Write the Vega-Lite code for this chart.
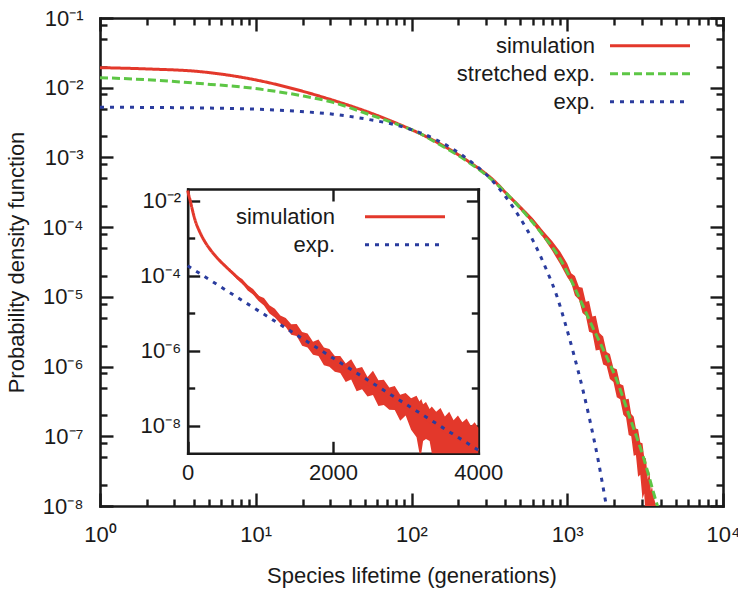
{
  "$schema": "https://vega.github.io/schema/vega-lite/v6.json",
  "width": 623,
  "height": 488,
  "autosize": {"type": "none"},
  "padding": {"left": 100, "top": 18, "right": 15, "bottom": 85},
  "background": "#ffffff",
  "config": {
    "view": {"stroke": null},
    "font": "Liberation Sans",
    "axis": {
      "grid": false, "domainColor": "#1a1a1a", "domainWidth": 2.6, "domainCap": "square",
      "tickColor": "#1a1a1a", "tickWidth": 2.4,
      "labelFont": "Liberation Sans", "labelFontSize": 22, "labelColor": "#1a1a1a",
      "titleFont": "Liberation Sans", "titleFontSize": 22, "titleFontWeight": "normal", "titleColor": "#1a1a1a",
      "labelOverlap": false, "labelFlush": false, "labelBound": false, "zindex": 1
    },
    "legend": {"labelFont": "Liberation Sans", "labelFontSize": 22, "labelColor": "#1a1a1a", "padding": 0}
  },
  "datasets": {
    "main": [
      {"series": "simulation", "t": 1, "p": 0.0194},
      {"series": "simulation", "t": 2, "p": 0.0186},
      {"series": "simulation", "t": 4.4, "p": 0.017},
      {"series": "simulation", "t": 10.6, "p": 0.0126},
      {"series": "simulation", "t": 19.2, "p": 0.00912},
      {"series": "simulation", "t": 31.3, "p": 0.00661},
      {"series": "simulation", "t": 51.3, "p": 0.00457},
      {"series": "simulation", "t": 84.3, "p": 0.00295},
      {"series": "simulation", "t": 137, "p": 0.00178},
      {"series": "simulation", "t": 226, "p": 0.000912},
      {"series": "simulation", "t": 352, "p": 0.000427},
      {"series": "simulation", "t": 400, "p": 0.0003162},
      {"series": "simulation", "t": 500, "p": 0.0001905},
      {"series": "simulation", "t": 600, "p": 0.000123},
      {"series": "simulation", "t": 700, "p": 7.943e-5},
      {"series": "simulation", "t": 800, "p": 5.37e-5},
      {"series": "simulation", "t": 900, "p": 3.631e-5},
      {"series": "simulation", "t": 1000, "p": 2.399e-5},
      {"series": "simulation", "t": 1120, "p": 1.445e-5},
      {"series": "simulation", "t": 1253, "p": 8.913e-6},
      {"series": "simulation", "t": 1380, "p": 5.248e-6},
      {"series": "simulation", "t": 1524, "p": 3.02e-6},
      {"series": "simulation", "t": 1700, "p": 1.698e-6},
      {"series": "simulation", "t": 1879, "p": 1.0e-6},
      {"series": "simulation", "t": 2080, "p": 5.754e-7},
      {"series": "simulation", "t": 2291, "p": 3.311e-7},
      {"series": "simulation", "t": 2480, "p": 1.905e-7},
      {"series": "simulation", "t": 2672, "p": 1.096e-7},
      {"series": "simulation", "t": 2850, "p": 6.31e-8},
      {"series": "simulation", "t": 3041, "p": 3.631e-8},
      {"series": "simulation", "t": 3200, "p": 2.089e-8},
      {"series": "simulation", "t": 3373, "p": 1.202e-8},
      {"series": "simulation", "t": 3500, "p": 7.943e-9},
      {"series": "stretched exp.", "t": 1, "p": 0.01393},
      {"series": "stretched exp.", "t": 2, "p": 0.01303},
      {"series": "stretched exp.", "t": 4.4, "p": 0.01148},
      {"series": "stretched exp.", "t": 10.6, "p": 0.00955},
      {"series": "stretched exp.", "t": 19.2, "p": 0.007762},
      {"series": "stretched exp.", "t": 31.3, "p": 0.006166},
      {"series": "stretched exp.", "t": 51.3, "p": 0.004266},
      {"series": "stretched exp.", "t": 84.3, "p": 0.002884},
      {"series": "stretched exp.", "t": 112, "p": 0.002239},
      {"series": "stretched exp.", "t": 137, "p": 0.001738},
      {"series": "stretched exp.", "t": 226, "p": 0.0008913},
      {"series": "stretched exp.", "t": 352, "p": 0.0004169},
      {"series": "stretched exp.", "t": 473, "p": 0.0002138},
      {"series": "stretched exp.", "t": 668, "p": 8.71e-5},
      {"series": "stretched exp.", "t": 897, "p": 3.548e-5},
      {"series": "stretched exp.", "t": 1239, "p": 8.128e-6},
      {"series": "stretched exp.", "t": 1445, "p": 3.802e-6},
      {"series": "stretched exp.", "t": 1706, "p": 1.738e-6},
      {"series": "stretched exp.", "t": 2075, "p": 6.457e-7},
      {"series": "stretched exp.", "t": 2529, "p": 1.82e-7},
      {"series": "stretched exp.", "t": 3083, "p": 5.012e-8},
      {"series": "stretched exp.", "t": 3750, "p": 1.096e-8},
      {"series": "stretched exp.", "t": 3950, "p": 7.586e-9},
      {"series": "exp.", "t": 1, "p": 0.005248},
      {"series": "exp.", "t": 4.4, "p": 0.005129},
      {"series": "exp.", "t": 10.6, "p": 0.004898},
      {"series": "exp.", "t": 19.2, "p": 0.004571},
      {"series": "exp.", "t": 31.3, "p": 0.004169},
      {"series": "exp.", "t": 51.3, "p": 0.003548},
      {"series": "exp.", "t": 84.3, "p": 0.002818},
      {"series": "exp.", "t": 145, "p": 0.001778},
      {"series": "exp.", "t": 215, "p": 0.001047},
      {"series": "exp.", "t": 335, "p": 0.0004467},
      {"series": "exp.", "t": 407, "p": 0.000263},
      {"series": "exp.", "t": 498, "p": 0.0001349},
      {"series": "exp.", "t": 605, "p": 6.31e-5},
      {"series": "exp.", "t": 738, "p": 2.399e-5},
      {"series": "exp.", "t": 855, "p": 1.047e-5},
      {"series": "exp.", "t": 970, "p": 4.169e-6},
      {"series": "exp.", "t": 1094, "p": 1.585e-6},
      {"series": "exp.", "t": 1268, "p": 4.365e-7},
      {"series": "exp.", "t": 1400, "p": 1.66e-7},
      {"series": "exp.", "t": 1585, "p": 4.365e-8},
      {"series": "exp.", "t": 1758, "p": 1.202e-8},
      {"series": "exp.", "t": 1850, "p": 6.31e-9}
    ],
    "mainBand": [
      {"t": 400, "lo": 3.02e-4, "hi": 3.311e-4},
      {"t": 500, "lo": 1.778e-4, "hi": 2.042e-4},
      {"t": 600, "lo": 1.122e-4, "hi": 1.349e-4},
      {"t": 700, "lo": 7.079e-5, "hi": 8.913e-5},
      {"t": 800, "lo": 4.571e-5, "hi": 6.31e-5},
      {"t": 900, "lo": 2.951e-5, "hi": 4.467e-5},
      {"t": 1000, "lo": 1.905e-5, "hi": 3.02e-5},
      {"t": 1060, "lo": 1.585e-5, "hi": 2.188e-5},
      {"t": 1120, "lo": 1.047e-5, "hi": 1.995e-5},
      {"t": 1190, "lo": 9.12e-6, "hi": 1.38e-5},
      {"t": 1253, "lo": 5.888e-6, "hi": 1.349e-5},
      {"t": 1315, "lo": 5.37e-6, "hi": 8.511e-6},
      {"t": 1380, "lo": 3.162e-6, "hi": 8.71e-6},
      {"t": 1450, "lo": 3.02e-6, "hi": 5.248e-6},
      {"t": 1524, "lo": 1.698e-6, "hi": 5.37e-6},
      {"t": 1610, "lo": 1.738e-6, "hi": 3.02e-6},
      {"t": 1700, "lo": 1.072e-6, "hi": 2.692e-6},
      {"t": 1790, "lo": 1.023e-6, "hi": 1.622e-6},
      {"t": 1879, "lo": 6.607e-7, "hi": 1.514e-6},
      {"t": 1980, "lo": 6.026e-7, "hi": 9.55e-7},
      {"t": 2080, "lo": 3.631e-7, "hi": 9.12e-7},
      {"t": 2185, "lo": 3.388e-7, "hi": 5.623e-7},
      {"t": 2291, "lo": 2.042e-7, "hi": 5.37e-7},
      {"t": 2385, "lo": 1.862e-7, "hi": 3.388e-7},
      {"t": 2480, "lo": 1.047e-7, "hi": 3.467e-7},
      {"t": 2575, "lo": 1.0e-7, "hi": 2.089e-7},
      {"t": 2672, "lo": 5.248e-8, "hi": 1.905e-7},
      {"t": 2760, "lo": 5.37e-8, "hi": 1.288e-7},
      {"t": 2850, "lo": 2.63e-8, "hi": 1.259e-7},
      {"t": 2945, "lo": 2.818e-8, "hi": 8.128e-8},
      {"t": 3041, "lo": 1.259e-8, "hi": 7.943e-8},
      {"t": 3120, "lo": 1.514e-8, "hi": 5.012e-8},
      {"t": 3200, "lo": 6.166e-9, "hi": 4.786e-8},
      {"t": 3290, "lo": 7.943e-9, "hi": 2.399e-8},
      {"t": 3373, "lo": 3.02e-9, "hi": 3.162e-8},
      {"t": 3440, "lo": 5.012e-9, "hi": 1.66e-8},
      {"t": 3500, "lo": 1.995e-9, "hi": 1.905e-8},
      {"t": 3600, "lo": 1.259e-9, "hi": 1.318e-8},
      {"t": 3700, "lo": 1e-9, "hi": 1.047e-8},
      {"t": 3830, "lo": 1e-9, "hi": 8.913e-9}
    ],
    "inset": [
      {"series": "simulation", "t": 0, "p": 0.01905},
      {"series": "simulation", "t": 15, "p": 0.01413},
      {"series": "simulation", "t": 32, "p": 0.01072},
      {"series": "simulation", "t": 60, "p": 0.00631},
      {"series": "simulation", "t": 100, "p": 0.003162},
      {"series": "simulation", "t": 160, "p": 0.001585},
      {"series": "simulation", "t": 238, "p": 0.0008128},
      {"series": "simulation", "t": 320, "p": 0.0004786},
      {"series": "simulation", "t": 421, "p": 0.0002818},
      {"series": "simulation", "t": 530, "p": 0.0001738},
      {"series": "simulation", "t": 651, "p": 0.0001047},
      {"series": "simulation", "t": 760, "p": 6.607e-5},
      {"series": "simulation", "t": 881, "p": 3.981e-5},
      {"series": "simulation", "t": 1000, "p": 2.399e-5},
      {"series": "simulation", "t": 1110, "p": 1.445e-5},
      {"series": "simulation", "t": 1230, "p": 8.913e-6},
      {"series": "simulation", "t": 1340, "p": 5.623e-6},
      {"series": "simulation", "t": 1450, "p": 3.802e-6},
      {"series": "simulation", "t": 1569, "p": 2.399e-6},
      {"series": "simulation", "t": 1700, "p": 1.445e-6},
      {"series": "simulation", "t": 1822, "p": 9.55e-7},
      {"series": "simulation", "t": 1950, "p": 6.31e-7},
      {"series": "simulation", "t": 2096, "p": 3.981e-7},
      {"series": "simulation", "t": 2200, "p": 2.951e-7},
      {"series": "simulation", "t": 2326, "p": 2.042e-7},
      {"series": "simulation", "t": 2450, "p": 1.445e-7},
      {"series": "simulation", "t": 2555, "p": 1.072e-7},
      {"series": "simulation", "t": 2650, "p": 8.318e-8},
      {"series": "simulation", "t": 2785, "p": 6.026e-8},
      {"series": "simulation", "t": 2900, "p": 4.365e-8},
      {"series": "simulation", "t": 3014, "p": 3.162e-8},
      {"series": "simulation", "t": 3150, "p": 2.188e-8},
      {"series": "simulation", "t": 3243, "p": 1.698e-8},
      {"series": "simulation", "t": 3350, "p": 1.259e-8},
      {"series": "simulation", "t": 3473, "p": 8.913e-9},
      {"series": "simulation", "t": 3600, "p": 6.31e-9},
      {"series": "simulation", "t": 3700, "p": 4.786e-9},
      {"series": "simulation", "t": 3850, "p": 3.162e-9},
      {"series": "simulation", "t": 4000, "p": 2.188e-9},
      {"series": "exp.", "t": 0, "p": 1.862e-4},
      {"series": "exp.", "t": 500, "p": 4.519e-5},
      {"series": "exp.", "t": 1000, "p": 1.096e-5},
      {"series": "exp.", "t": 1500, "p": 2.667e-6},
      {"series": "exp.", "t": 2000, "p": 6.486e-7},
      {"series": "exp.", "t": 2500, "p": 1.574e-7},
      {"series": "exp.", "t": 3000, "p": 3.828e-8},
      {"series": "exp.", "t": 3500, "p": 9.29e-9},
      {"series": "exp.", "t": 4000, "p": 2.259e-9}
    ],
    "insetBand": [
      {"t": 500, "lo": 1.862e-4, "hi": 2.042e-4},
      {"t": 600, "lo": 1.208e-4, "hi": 1.413e-4},
      {"t": 675, "lo": 8.26e-5, "hi": 1.012e-4},
      {"t": 750, "lo": 6.383e-5, "hi": 8.26e-5},
      {"t": 825, "lo": 4.111e-5, "hi": 5.662e-5},
      {"t": 900, "lo": 3.184e-5, "hi": 4.519e-5},
      {"t": 975, "lo": 2.138e-5, "hi": 2.979e-5},
      {"t": 1050, "lo": 1.641e-5, "hi": 2.6e-5},
      {"t": 1125, "lo": 9.954e-6, "hi": 1.663e-5},
      {"t": 1200, "lo": 7.798e-6, "hi": 1.337e-5},
      {"t": 1275, "lo": 5.37e-6, "hi": 8.81e-6},
      {"t": 1350, "lo": 4.325e-6, "hi": 7.516e-6},
      {"t": 1425, "lo": 2.723e-6, "hi": 5.152e-6},
      {"t": 1500, "lo": 2.512e-6, "hi": 5.212e-6},
      {"t": 1575, "lo": 1.368e-6, "hi": 3.199e-6},
      {"t": 1650, "lo": 1.23e-6, "hi": 2.938e-6},
      {"t": 1725, "lo": 7.98e-7, "hi": 1.754e-6},
      {"t": 1800, "lo": 7.362e-7, "hi": 2.028e-6},
      {"t": 1875, "lo": 4.178e-7, "hi": 1.245e-6},
      {"t": 1950, "lo": 3.811e-7, "hi": 1.135e-6},
      {"t": 2025, "lo": 2.793e-7, "hi": 7.328e-7},
      {"t": 2100, "lo": 2.594e-7, "hi": 7.328e-7},
      {"t": 2175, "lo": 1.476e-7, "hi": 4.634e-7},
      {"t": 2250, "lo": 1.73e-7, "hi": 6.053e-7},
      {"t": 2325, "lo": 8.414e-8, "hi": 3.404e-7},
      {"t": 2400, "lo": 9.462e-8, "hi": 3.724e-7},
      {"t": 2475, "lo": 6.067e-8, "hi": 2.009e-7},
      {"t": 2550, "lo": 6.668e-8, "hi": 2.965e-7},
      {"t": 2625, "lo": 3.412e-8, "hi": 1.648e-7},
      {"t": 2700, "lo": 3.606e-8, "hi": 1.718e-7},
      {"t": 2775, "lo": 2.685e-8, "hi": 1.059e-7},
      {"t": 2850, "lo": 2.679e-8, "hi": 1.159e-7},
      {"t": 2925, "lo": 1.368e-8, "hi": 6.792e-8},
      {"t": 3000, "lo": 1.905e-8, "hi": 7.586e-8},
      {"t": 3075, "lo": 7.889e-9, "hi": 5.47e-8},
      {"t": 3150, "lo": 5.012e-9, "hi": 6.339e-8},
      {"t": 3190, "lo": 3e-10, "hi": 4.467e-8},
      {"t": 3215, "lo": 3e-10, "hi": 5.248e-8},
      {"t": 3240, "lo": 3.981e-9, "hi": 3.802e-8},
      {"t": 3280, "lo": 4.467e-9, "hi": 4.365e-8},
      {"t": 3330, "lo": 3.981e-9, "hi": 2.818e-8},
      {"t": 3360, "lo": 3e-10, "hi": 3.311e-8},
      {"t": 3420, "lo": 3e-10, "hi": 2.399e-8},
      {"t": 3480, "lo": 3e-10, "hi": 3.02e-8},
      {"t": 3540, "lo": 3e-10, "hi": 1.778e-8},
      {"t": 3600, "lo": 3e-10, "hi": 2.399e-8},
      {"t": 3660, "lo": 3e-10, "hi": 1.413e-8},
      {"t": 3720, "lo": 3e-10, "hi": 1.905e-8},
      {"t": 3780, "lo": 3e-10, "hi": 1.259e-8},
      {"t": 3840, "lo": 3e-10, "hi": 1.585e-8},
      {"t": 3900, "lo": 3e-10, "hi": 1.0e-8},
      {"t": 3950, "lo": 3e-10, "hi": 1.259e-8},
      {"t": 4000, "lo": 3e-10, "hi": 8.913e-9}
    ]
  },
  "layer": [
    {
      "layer": [
        {
          "data": {"name": "mainBand"},
          "mark": {"type": "area", "color": "#e3382b", "clip": true, "interpolate": "linear"},
          "encoding": {
            "x": {"field": "t", "type": "quantitative",
              "scale": {"type": "log", "domain": [1, 10000], "nice": false},
              "axis": {"orient": "top", "labels": false, "title": null,
                "values": [1,2,3,4,5,6,7,8,9,10,20,30,40,50,60,70,80,90,100,200,300,400,500,600,700,800,900,1000,2000,3000,4000,5000,6000,7000,8000,9000,10000],
                "tickSize": {"condition": {"test": "abs(log(datum.value)/LN10-round(log(datum.value)/LN10))<0.001", "value": -13}, "value": -7}}},
            "y": {"field": "lo", "type": "quantitative",
              "scale": {"type": "log", "domain": [1e-8, 0.1], "nice": false},
              "axis": {"orient": "right", "labels": false, "title": null,
                "values": [1e-8,2e-8,5e-8,8e-8,1e-7,2e-7,5e-7,8e-7,1e-6,2e-6,5e-6,8e-6,1e-5,2e-5,5e-5,8e-5,0.0001,0.0002,0.0005,0.0008,0.001,0.002,0.005,0.008,0.01,0.02,0.05,0.08,0.1],
                "tickSize": {"condition": {"test": "abs(log(datum.value)/LN10-round(log(datum.value)/LN10))<0.001", "value": -13}, "value": -7}}},
            "y2": {"field": "hi"}
          }
        },
        {
          "data": {"name": "main"},
          "mark": {"type": "line", "clip": true, "strokeWidth": 3, "interpolate": "monotone"},
          "encoding": {
            "x": {"field": "t", "type": "quantitative",
              "scale": {"type": "log", "domain": [1, 10000], "nice": false},
              "axis": {"orient": "bottom",
                "values": [1,2,3,4,5,6,7,8,9,10,20,30,40,50,60,70,80,90,100,200,300,400,500,600,700,800,900,1000,2000,3000,4000,5000,6000,7000,8000,9000,10000],
                "labelExpr": "abs(log(datum.value)/LN10-round(log(datum.value)/LN10))<0.001 ? '10' + ['⁰','¹','²','³','⁴'][round(log(datum.value)/LN10)] : ''",
                "tickSize": {"condition": {"test": "abs(log(datum.value)/LN10-round(log(datum.value)/LN10))<0.001", "value": -13}, "value": -7},
                "labelPadding": 31,
                "title": "Species lifetime (generations)", "titleY": 76, "titleBaseline": "alphabetic"}},
            "y": {"field": "p", "type": "quantitative",
              "scale": {"type": "log", "domain": [1e-8, 0.1], "nice": false},
              "axis": {"orient": "left",
                "values": [1e-8,2e-8,5e-8,8e-8,1e-7,2e-7,5e-7,8e-7,1e-6,2e-6,5e-6,8e-6,1e-5,2e-5,5e-5,8e-5,0.0001,0.0002,0.0005,0.0008,0.001,0.002,0.005,0.008,0.01,0.02,0.05,0.08,0.1],
                "labelExpr": "abs(log(datum.value)/LN10-round(log(datum.value)/LN10))<0.001 ? '10⁻' + ['⁰','¹','²','³','⁴','⁵','⁶','⁷','⁸','⁹'][-round(log(datum.value)/LN10)] : ''",
                "tickSize": {"condition": {"test": "abs(log(datum.value)/LN10-round(log(datum.value)/LN10))<0.001", "value": -13}, "value": -7},
                "labelPadding": 30,
                "title": "Probability density function", "titleX": -84, "titleY": 244, "titleAngle": 270, "titleAlign": "center", "titleBaseline": "middle"}},
            "color": {"field": "series", "type": "nominal",
              "scale": {"domain": ["simulation", "stretched exp.", "exp."], "range": ["#e3382b", "#5dc645", "#2a3c9e"]},
              "legend": {"orient": "none", "legendX": 538.5, "legendY": 16.2, "direction": "vertical", "title": null,
                "symbolType": "M-4,0L4,0", "symbolSize": 400, "symbolStrokeWidth": 3, "rowPadding": 5,
                "labelAlign": "right", "labelOffset": -66.5, "labelLimit": 300}},
            "strokeDash": {"field": "series", "type": "nominal",
              "scale": {"domain": ["simulation", "stretched exp.", "exp."], "range": [[1, 0], [8, 4], [4, 6]]},
              "legend": {"orient": "none", "legendX": 538.5, "legendY": 16.2, "direction": "vertical", "title": null,
                "symbolType": "M-4,0L4,0", "symbolSize": 400, "symbolStrokeWidth": 3, "rowPadding": 5,
                "labelAlign": "right", "labelOffset": -66.5, "labelLimit": 300}}
          }
        }
      ],
      "resolve": {"axis": {"x": "independent", "y": "independent"}}
    },
    {
      "layer": [
        {
          "data": {"name": "insetBand"},
          "mark": {"type": "area", "color": "#e3382b", "interpolate": "linear"},
          "encoding": {
            "x": {"field": "t", "type": "quantitative",
              "scale": {"type": "linear", "domain": [0, 4000], "range": [87.7, 378.3], "nice": false, "zero": false},
              "axis": {"orient": "top", "offset": -171, "labels": false, "title": null, "values": [0, 2000, 4000], "tickSize": -12}},
            "y": {"field": "lo", "type": "quantitative",
              "scale": {"type": "log", "domain": [1.862e-9, 0.02089], "range": [435.3, 171], "nice": false, "clamp": true},
              "axis": {"orient": "right", "offset": -244.7, "labels": false, "title": null,
                "values": [1e-8, 1e-7, 1e-6, 1e-5, 1e-4, 1e-3, 1e-2],
                "tickSize": {"condition": {"test": "round(log(datum.value)/LN10)%2==0", "value": -12}, "value": -7}}},
            "y2": {"field": "hi"}
          }
        },
        {
          "data": {"name": "inset"},
          "mark": {"type": "line", "strokeWidth": 3, "interpolate": "monotone"},
          "encoding": {
            "x": {"field": "t", "type": "quantitative",
              "scale": {"type": "linear", "domain": [0, 4000], "range": [87.7, 378.3], "nice": false, "zero": false},
              "axis": {"orient": "bottom", "offset": -52.7, "title": null, "values": [0, 2000, 4000], "format": "d", "tickSize": -12, "labelPadding": 21.5}},
            "y": {"field": "p", "type": "quantitative",
              "scale": {"type": "log", "domain": [1.862e-9, 0.02089], "range": [435.3, 171], "nice": false, "clamp": true},
              "axis": {"orient": "left", "offset": -87.7, "title": null,
                "values": [1e-8, 1e-7, 1e-6, 1e-5, 1e-4, 1e-3, 1e-2],
                "labelExpr": "round(log(datum.value)/LN10)%2==0 ? '10⁻' + ['⁰','¹','²','³','⁴','⁵','⁶','⁷','⁸','⁹'][-round(log(datum.value)/LN10)] : ''",
                "tickSize": {"condition": {"test": "round(log(datum.value)/LN10)%2==0", "value": -12}, "value": -7},
                "labelPadding": 19}},
            "color": {"field": "series", "type": "nominal",
              "scale": {"domain": ["simulation", "exp."], "range": ["#e3382b", "#2a3c9e"]},
              "legend": {"orient": "none", "legendX": 293.5, "legendY": 187.2, "direction": "vertical", "title": null,
                "symbolType": "M-4,0L4,0", "symbolSize": 400, "symbolStrokeWidth": 3, "rowPadding": 5,
                "labelAlign": "right", "labelOffset": -81.5, "labelLimit": 300}},
            "strokeDash": {"field": "series", "type": "nominal",
              "scale": {"domain": ["simulation", "exp."], "range": [[1, 0], [4, 6]]},
              "legend": {"orient": "none", "legendX": 293.5, "legendY": 187.2, "direction": "vertical", "title": null,
                "symbolType": "M-4,0L4,0", "symbolSize": 400, "symbolStrokeWidth": 3, "rowPadding": 5,
                "labelAlign": "right", "labelOffset": -81.5, "labelLimit": 300}}
          }
        }
      ],
      "resolve": {"axis": {"x": "independent", "y": "independent"}}
    }
  ],
  "resolve": {
    "scale": {"x": "independent", "y": "independent", "color": "independent", "strokeDash": "independent"},
    "axis": {"x": "independent", "y": "independent"},
    "legend": {"color": "independent", "strokeDash": "independent"}
  }
}
